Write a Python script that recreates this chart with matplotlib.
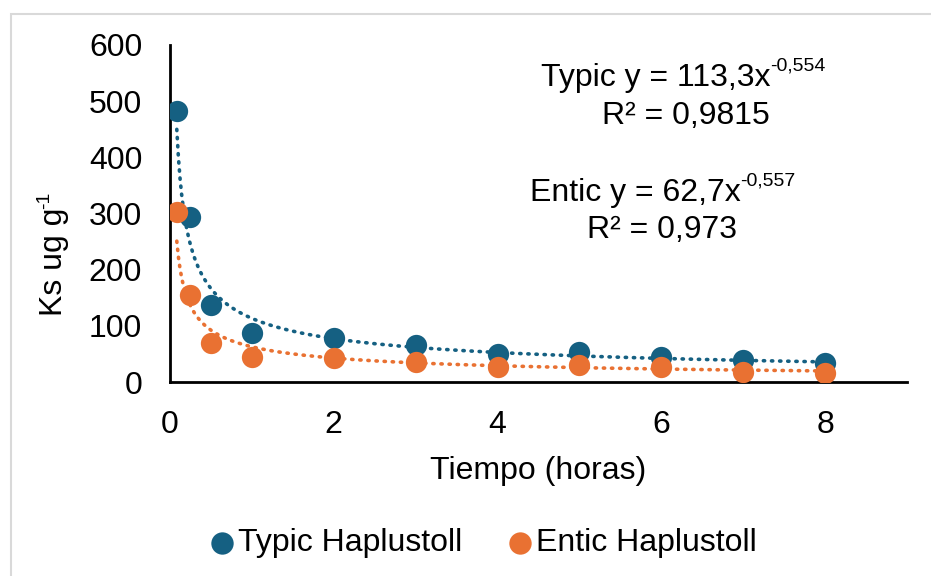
import matplotlib
matplotlib.use("Agg")
import matplotlib.pyplot as plt
import numpy as np
from matplotlib.patches import Rectangle

plt.rcParams['font.family'] = ['Liberation Sans', 'DejaVu Sans']

# Tiempo (horas)
tiempo = [0.083, 0.25, 0.5, 1, 2, 3, 4, 5, 6, 7, 8]
# Ks ug g-1
typic = [482, 294, 137, 87, 78, 66, 50, 53, 44, 39, 34]
entic = [303, 155, 69, 45, 43, 36, 27, 30, 27, 18, 16]

# power trendlines as displayed (y = a * x^b)
typic_fit = (113.3, -0.554)
entic_fit = (62.7, -0.557)

BLUE = '#156082'
ORANGE = '#E97132'
FS = 23
SUP = 14


def with_sup(ax, x, y, base, sup, **kw):
    # text followed by a small raised superscript (Excel style hyphen)
    t = ax.text(x, y, base, transform=ax.transAxes, fontsize=FS, ha='left', va='center', **kw)
    ax.annotate(sup, xy=(1, 0.62), xycoords=t, fontsize=SUP, ha='left', va='bottom')
    return t


fig = plt.figure(figsize=(9.31, 5.76), dpi=100)
fig.patches.append(Rectangle((11 / 931, -0.1), 1.2, 1 - 14 / 576 + 0.1,
                             transform=fig.transFigure, fill=False,
                             edgecolor='#d9d9d9', linewidth=1.5))

ax = fig.add_axes([170 / 931, 1 - 382 / 576, (907 - 170) / 931, (382 - 45) / 576])

xs = np.linspace(min(tiempo), max(tiempo), 400)
ax.plot(xs, typic_fit[0] * xs ** typic_fit[1], color=BLUE, lw=2.6,
        linestyle=(0, (0.35, 1.9)), dash_capstyle='round', zorder=2)
ax.plot(xs, entic_fit[0] * xs ** entic_fit[1], color=ORANGE, lw=2.6,
        linestyle=(0, (0.35, 1.9)), dash_capstyle='round', zorder=2)

ax.scatter(tiempo, typic, s=235, color=BLUE, zorder=3, label='Typic Haplustoll', linewidths=0)
ax.scatter(tiempo, entic, s=235, color=ORANGE, zorder=4, label='Entic Haplustoll', linewidths=0)

ax.set_xlim(0, 9)
ax.set_ylim(0, 600)
ax.set_xticks([0, 2, 4, 6, 8])
ax.set_yticks([0, 100, 200, 300, 400, 500, 600])
ax.tick_params(axis='both', length=0, labelsize=FS)
ax.tick_params(axis='y', pad=20)
ax.tick_params(axis='x', pad=20)
for s in ['top', 'right']:
    ax.spines[s].set_visible(False)
for s in ['left', 'bottom']:
    ax.spines[s].set_linewidth(2)

ax.set_xlabel('Tiempo (horas)', fontsize=FS, labelpad=12)

# y label with superscript
yl = fig.text(54 / 931, 1 - 262 / 576, 'Ks ug g', rotation=90, fontsize=FS,
              ha='center', va='center')
ax.annotate('-1', xy=(-0.08, 0.99), xycoords=yl, fontsize=SUP, rotation=90,
            ha='left', va='bottom')

with_sup(ax, 0.503, 0.902, 'Typic y = 113,3x', '-0,554')
ax.text(0.700, 0.789, 'R² = 0,9815', transform=ax.transAxes, fontsize=FS,
        ha='center', va='center')
with_sup(ax, 0.488, 0.561, 'Entic y = 62,7x', '-0,557')
ax.text(0.668, 0.451, 'R² = 0,973', transform=ax.transAxes, fontsize=FS,
        ha='center', va='center')

fig.legend(loc='center', bbox_to_anchor=(0.517, 1 - 543 / 576), ncol=2, frameon=False,
           fontsize=FS, handletextpad=0.0, columnspacing=1.3, markerscale=1.05,
           handlelength=1.0)

fig.savefig('out.png', dpi=100)
